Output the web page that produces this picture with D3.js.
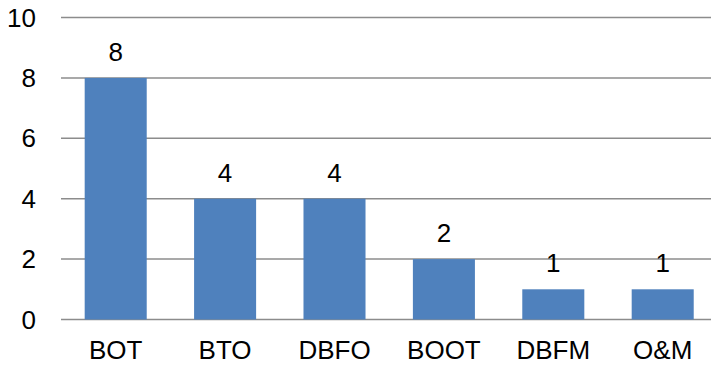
<!DOCTYPE html>
<html><head><meta charset="utf-8">
<script src="https://cdn.jsdelivr.net/npm/d3@7"></script>
<style>body{margin:0;background:#fff}svg{display:block}text{font-family:"Liberation Sans",Arial,sans-serif;fill:#000}</style>
</head><body>
<script>
const categories = ["BOT","BTO","DBFO","BOOT","DBFM","O&M"];
const values = [8,4,4,2,1,1];
const yTicks = [0,2,4,6,8,10];

const W = 711, H = 365;
const svg = d3.select("body").append("svg").attr("width",W).attr("height",H);
const x = d3.scaleBand().domain(categories).range([61, 717.4]).paddingInner(0.433).paddingOuter(0.2165);
const y = d3.scaleLinear().domain([0,10]).range([319.5, 17.5]);

svg.append("g").selectAll("line").data(yTicks).join("line")
  .attr("x1",61).attr("x2",W).attr("y1",d=>y(d)).attr("y2",d=>y(d))
  .attr("stroke","#8c8c8c").attr("stroke-width",1.5);

svg.append("g").selectAll("text").data(yTicks).join("text")
  .attr("x",36).attr("y",d=>y(d)).attr("dy","0.35em").attr("text-anchor","end")
  .attr("font-size",26).text(d=>d);

svg.append("g").selectAll("rect").data(values).join("rect")
  .attr("x",(d,i)=>x(categories[i])).attr("width",x.bandwidth())
  .attr("y",d=>y(d)).attr("height",d=>y(0)-y(d)).attr("fill","#4f81bd");

svg.append("g").selectAll("text").data(values).join("text")
  .attr("x",(d,i)=>x(categories[i])+x.bandwidth()/2).attr("y",d=>y(d)-17)
  .attr("text-anchor","middle").attr("font-size",26).text(d=>d);

svg.append("g").selectAll("text").data(categories).join("text")
  .attr("x",d=>x(d)+x.bandwidth()/2).attr("y",359)
  .attr("text-anchor","middle").attr("font-size",26).text(d=>d);
</script>
</body></html>
